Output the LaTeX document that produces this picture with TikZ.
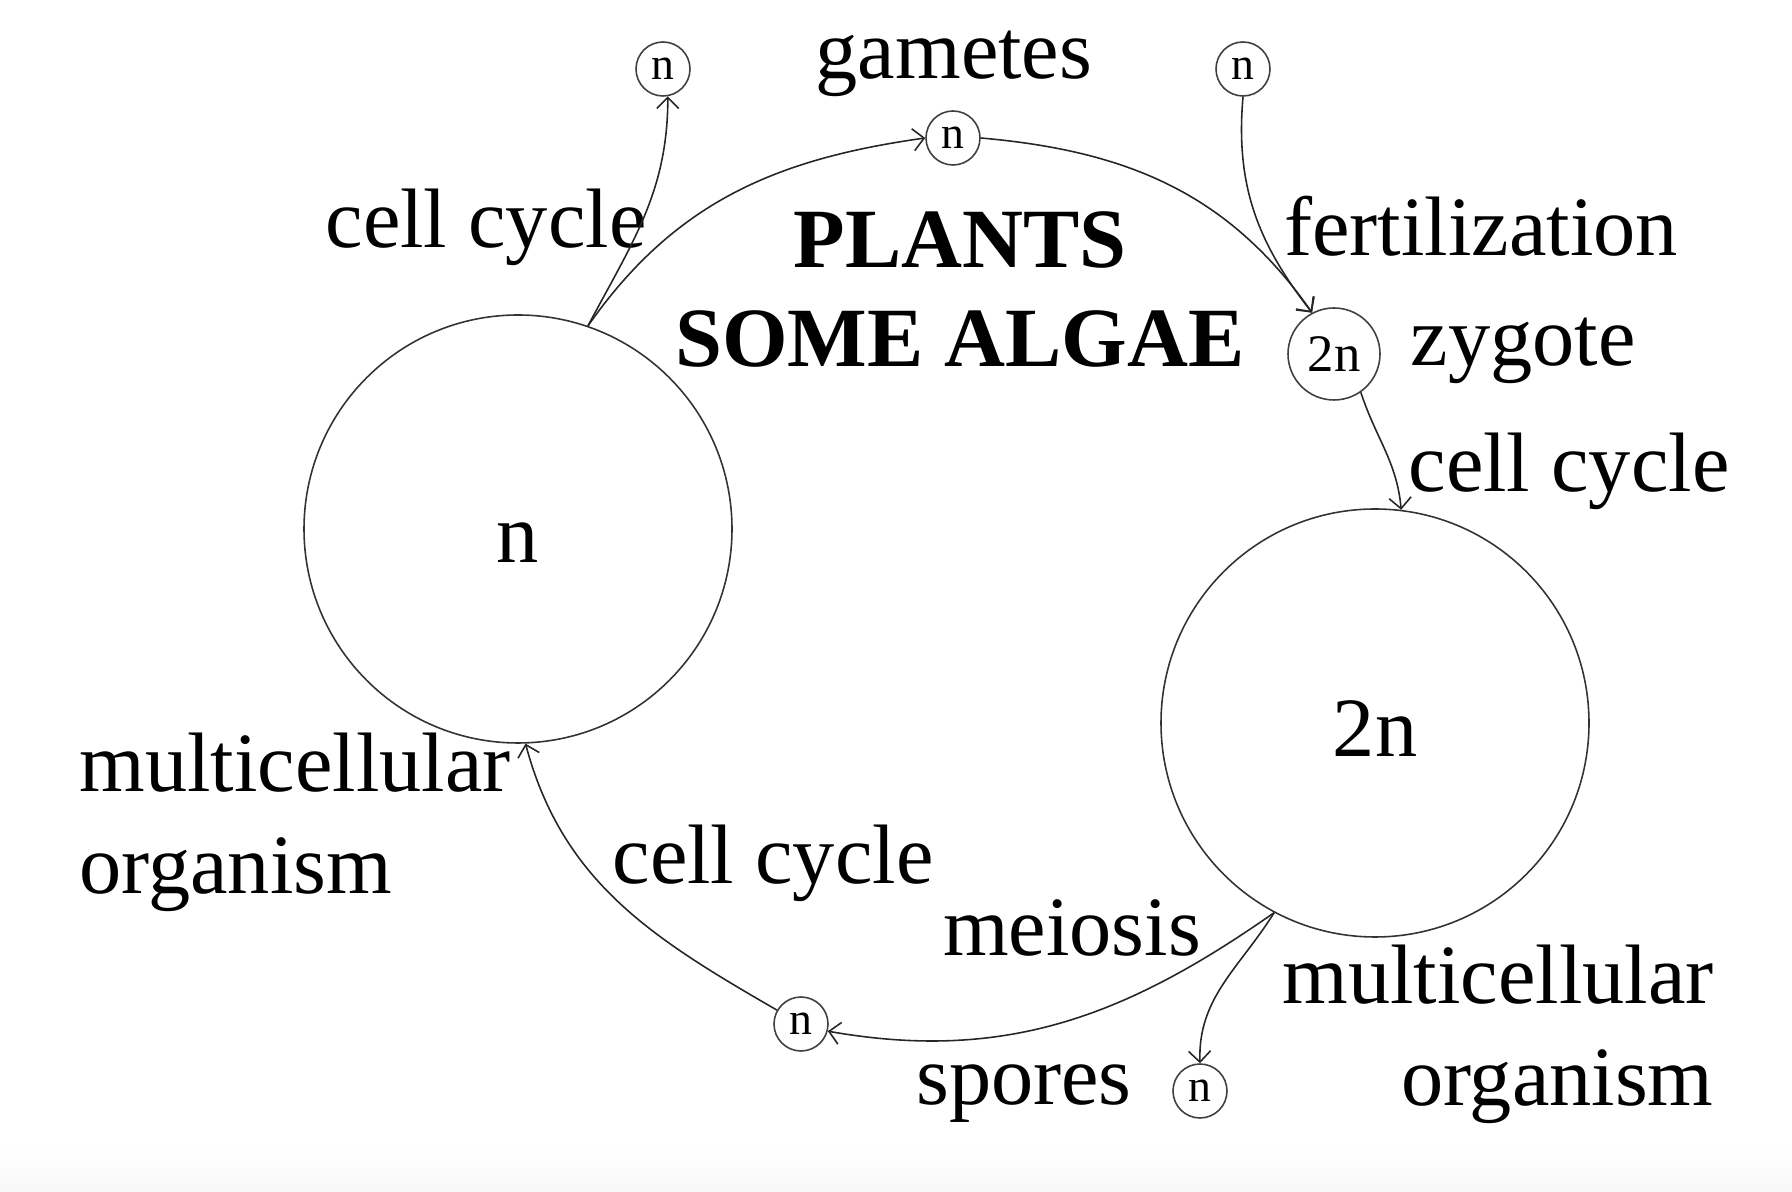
\documentclass[tikz,border=0pt]{standalone}
\usepackage{fontspec}
\setmainfont{Liberation Serif}
\usetikzlibrary{arrows.meta}

\begin{document}
\begin{tikzpicture}[
    bigcell/.style={
        draw=black!80, circle, line width=0.45pt,
        minimum size=4.28cm, inner sep=0pt
    },
    smallcell/.style={
        draw=black!75, circle, line width=0.45pt,
        minimum size=0.54cm, inner sep=0pt,
        font=\fontsize{13}{15}\selectfont
    },
    zygcell/.style={
        draw=black!75, circle, line width=0.45pt,
        minimum size=0.92cm, inner sep=0pt,
        font=\fontsize{15}{18}\selectfont
    },
    lbl/.style={font=\fontsize{24}{29}\selectfont, inner sep=0pt},
    title/.style={font=\fontsize{24}{29}\selectfont\bfseries, inner sep=0pt},
    arr/.style={-{Straight Barb[length=1.1mm,width=2.2mm]}, line width=0.45pt, black!85}
]
\useasboundingbox (0,0) rectangle (17.92,11.92);

% faint strip at the bottom
\shade[top color=white, bottom color=black!3] (0,0) rectangle (17.92,0.45);

% the two multicellular stages
\node[bigcell] (hapl) at (5.18, 6.63)  {};
\node[lbl]     (hapn) at (5.18, 6.49)  {n};
\node[bigcell] (dipl) at (13.75, 4.69) {};
\node[lbl]     (dipn) at (13.75, 4.63) {2n};

% single cells
\node[smallcell] (gtl) at (6.63, 11.23)  {n};
\node[smallcell] (gam) at (9.53, 10.54)  {n};
\node[smallcell] (gtr) at (12.43, 11.23) {n};
\node[zygcell]   (zyg) at (13.34, 8.38)  {2n};
\node[smallcell] (spr) at (8.01, 1.68)   {n};
\node[smallcell] (sbr) at (12.00, 1.01)  {n};

% labels
\node[lbl] (lgam) at (9.54, 11.28)  {gametes};
\node[lbl] (lcc1) at (4.86, 9.65)   {cell cycle};
\node[lbl] (lfer) at (14.81, 9.66)  {fertilization};
\node[lbl] (lzyg) at (15.23, 8.41)  {zygote};
\node[lbl] (lcc2) at (15.69, 7.21)  {cell cycle};
\node[lbl, align=left]  (lmo1) at (2.95, 3.70) {multicellular\\organism};
\node[lbl] (lcc3) at (7.73, 3.29)   {cell cycle};
\node[lbl] (lmei) at (10.72, 2.64)  {meiosis};
\node[lbl, align=right] (lmo2) at (14.98, 1.58) {multicellular\\organism};
\node[lbl] (lspo) at (10.24, 0.98)  {spores};

% group name
\node[title] (tpl) at (9.60, 9.52) {PLANTS};
\node[title] (tal) at (9.60, 8.53) {SOME ALGAE};

% cycle
\draw[arr] (hapl.71) to[out=55, in=188] (gam.west);
\draw[arr] (hapl.71) to[out=62, in=-90] (gtl.-80);
\draw[arr] (gam.east) to[out=-5, in=125] (zyg.118);
\draw[arr] (gtr.south) to[out=-95, in=128] (zyg.118);
\draw[arr] (zyg.-55) to[out=-72, in=95] (dipl.83);
\draw[arr] (dipl.242) to[out=215, in=-10] (spr.-15);
\draw[arr] (dipl.242) to[out=238, in=92] (sbr.north);
\draw[arr] (spr.150) to[out=150, in=-75] (hapl.-88);

\end{tikzpicture}
\end{document}
